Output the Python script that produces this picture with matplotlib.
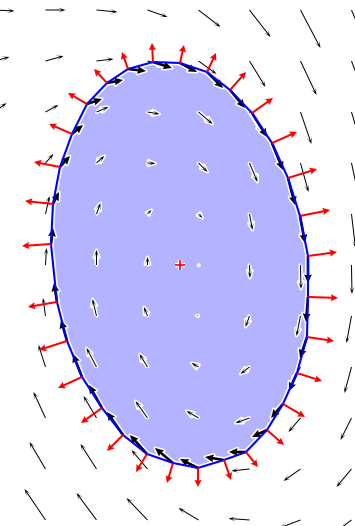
import numpy as np
import matplotlib.pyplot as plt
from matplotlib import patheffects as pe

# grid of the velocity field (grid spacing = 1)
xs = np.arange(8)
ys = np.arange(10, -1, -1)          # rows listed top to bottom

# field components, one row per entry of ys (units: 51 = one grid step)
U = [
    [20, 20, 21, 20, 22, 21, 20, 19],
    [15, 18, 17, 18, 18, 16, 16, 16],
    [12, 13, 12, 12, 14, 13, 11, 12],
    [4, 8, 8, 8, 9, 8, 8, 8],
    [0, 4, 4, 4, 4, 3, 4, 4],
    [-4, 1, 0, 0, 0.5, 0.5, 0.5, 0.5],
    [-8, -2.5, -4, -3.5, -2, -4, -4, -5],
    [-12, -7, -10, -8, -7, -9, -9, -7],
    [-16, -12, -13, -12, -12, -14, -12, -11],
    [-20, -16, -16, -16, -17, -18, -17, -15],
    [-24, -21, -20, -21, -20, -21, -21, -20],
]
V = [
    [-1, 0, -2, -7, -17, -27, -38, -45],
    [4, 5, 2, -5, -13, -26, -34, -42],
    [9, 7, 5, -2, -12, -21, -32, -40],
    [12, 9, 7, -0.5, -9, -19, -29, -37],
    [18, 18, 11, 4, -4, -16, -26, -34],
    [20, 17, 15, 8, -1, -13, -24, -29],
    [21, 18, 17, 9, 0.5, -11, -20, -27],
    [24, 22, 19, 13, 4, -7, -17, -26],
    [28, 26, 22, 17, 7, -5, -14, -22],
    [30, 27, 25, 19, 10, -2, -12, -18],
    [33, 31, 27, 22, 12, 1.5, -8, -15],
]

# sampled boundary of the body
bx = [3.108, 2.618, 2.206, 1.814, 1.520, 1.284, 1.147, 1.108, 1.225, 1.422,
      1.716, 2.108, 2.520, 2.990, 3.500, 3.990, 4.500, 4.931, 5.343, 5.657,
      5.931, 6.127, 6.147, 6.147, 5.990, 5.755, 5.441, 5.049, 4.618, 4.167,
      3.637]
by = [8.980, 8.843, 8.569, 8.157, 7.569, 6.922, 6.196, 5.412, 4.275, 3.510,
      2.804, 2.196, 1.667, 1.294, 1.118, 1.020, 1.176, 1.333, 1.765, 2.275,
      2.882, 3.588, 4.373, 5.176, 5.961, 6.706, 7.392, 7.980, 8.431, 8.784,
      8.961]

# velocity at the boundary samples
bu = [19, 18, 16, 15, 11, 10, 6, 2, -3, -6, -9, -13, -16, -17, -18, -18,
      -19, -17, -15, -12, -8, -7, -2, 0, 5, 7, 11, 15, 15, 16, 17]
bv = [-6, -2, 3, 5, 9, 11, 12, 16, 19, 21, 23, 23, 23, 19, 15, 9,
      3, 0, -7, -14, -18, -21, -25, -27, -27, -27, -27, -24, -18, -16, -9]

# outward normals at the boundary samples
nu = [-1, -6, -13, -19, -23, -26, -28, -29, -29, -28, -24, -21, -16, -11, -6, 0,
      7, 12, 17, 22, 25, 27, 30, 29, 30, 29, 25, 21, 16, 9, 4]
nv = [19, 17, 14, 11, 10, 5, 3, -2, -5, -9, -11, -15, -16, -18, -20, -19,
      -20, -15, -15, -13, -8, -4, -1, 4, 6, 9, 11, 15, 18, 19, 18]

center = (3.637, 5.0)

fig = plt.figure(figsize=(3.55, 5.26), dpi=100)
ax = fig.add_axes([0, 0, 1, 1])
ax.set_xlim(0.108, 7.069)
ax.set_ylim(-0.118, 10.196)
ax.axis('off')

halo = [pe.withStroke(linewidth=2.2, foreground='w')]

# body: filled polygon with a white rim, blue outline drawn later on top
ax.fill(bx, by, facecolor=(0.7, 0.7, 1.0), edgecolor='w', lw=3.8, zorder=1)

X, Y = np.meshgrid(xs, ys)
q = ax.quiver(X, Y, U, V, angles='xy', scale_units='xy', scale=51,
              units='dots', width=1.0, headwidth=5, headlength=7.5,
              headaxislength=3.5, color='k', zorder=3)
q.set_path_effects(halo)

qb = ax.quiver(bx, by, bu, bv, angles='xy', scale_units='xy', scale=51,
               units='dots', width=2.6, headwidth=3, headlength=3.3,
               headaxislength=3, color='k', zorder=4)
qb.set_path_effects(halo)

ax.plot(bx + bx[:1], by + by[:1], color='blue', lw=1.5, zorder=4.5)

ax.quiver(bx, by, nu, nv, angles='xy', scale_units='xy', scale=51,
          units='dots', width=2.0, headwidth=3.6, headlength=3.6,
          headaxislength=3.2, color='red', zorder=5)

ax.plot(*center, '+', color='red', ms=7, mew=1.2, zorder=6,
        path_effects=[pe.withStroke(linewidth=3, foreground='w')])

fig.savefig('out.png', dpi=100)
